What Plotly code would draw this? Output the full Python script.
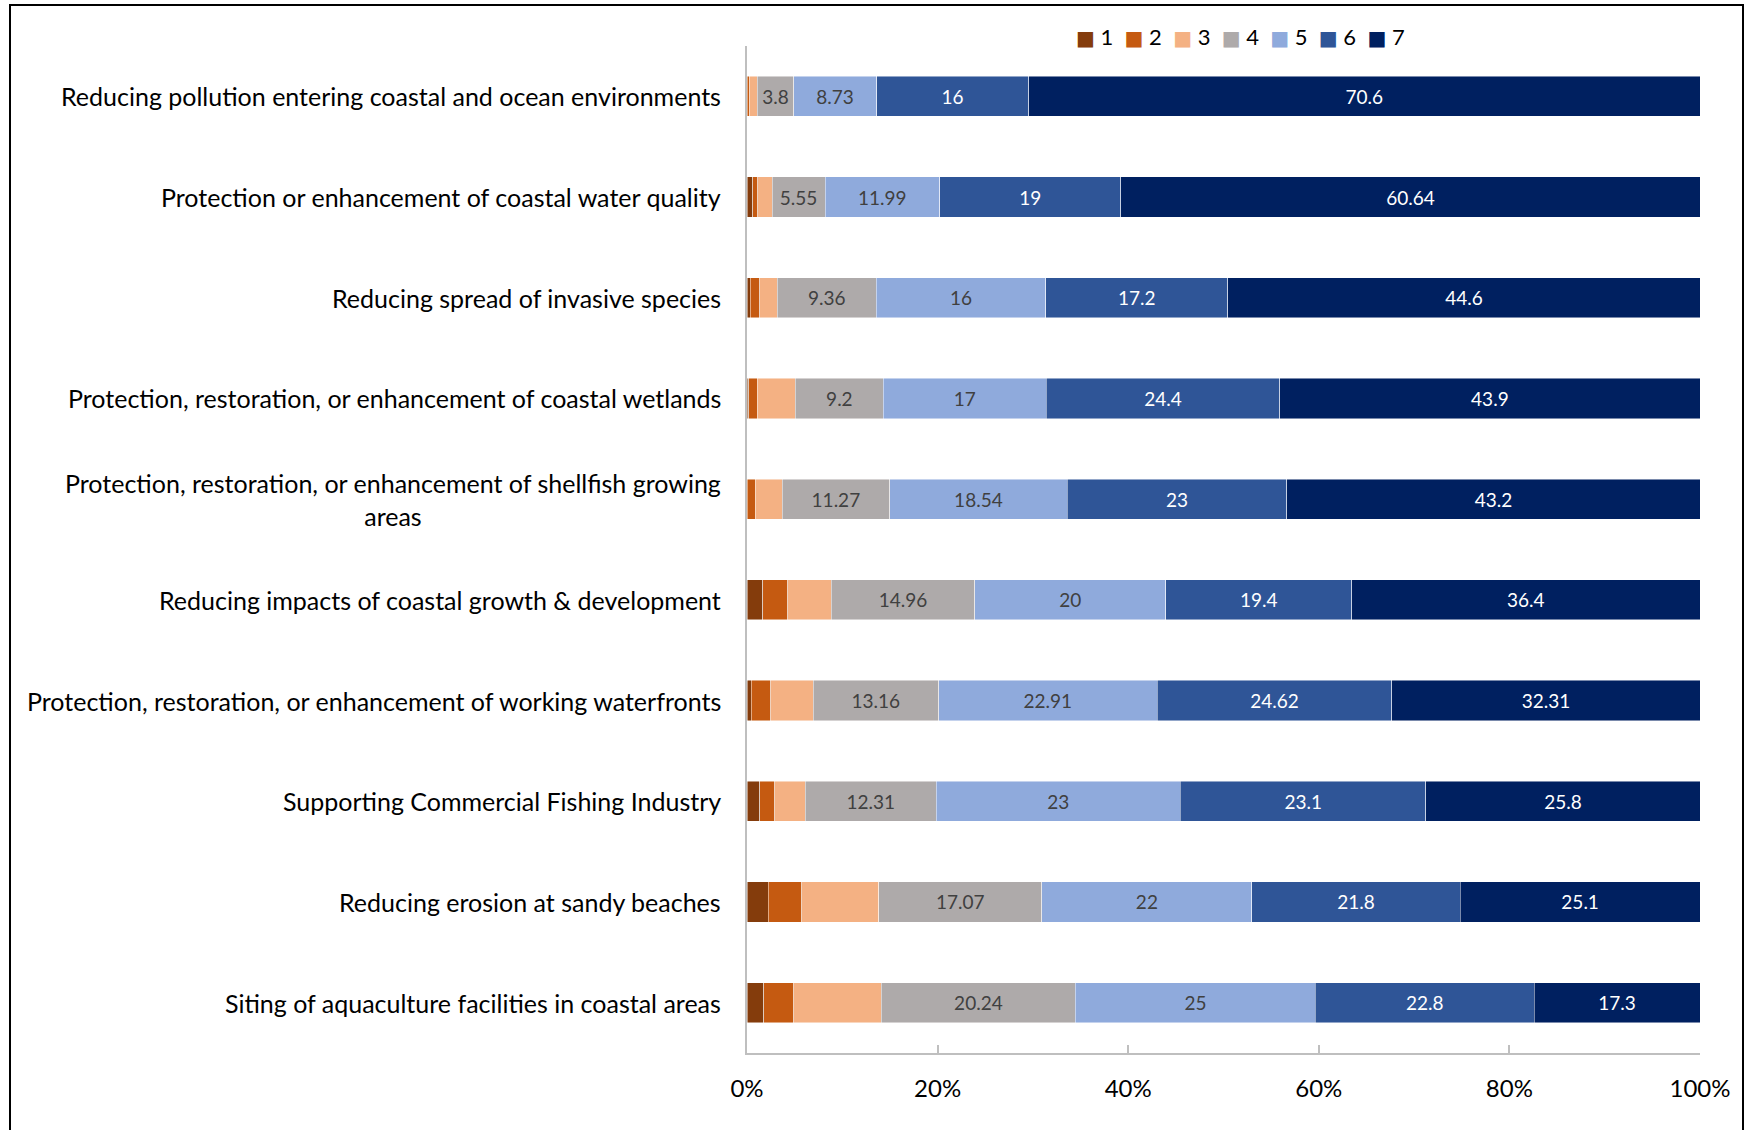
import plotly.graph_objects as go

# Survey topics (top to bottom) and responses on a 1-7 scale
categories = [
    "Reducing pollution entering coastal and ocean environments",
    "Protection or enhancement of coastal water quality",
    "Reducing spread of invasive species",
    "Protection, restoration, or enhancement of coastal wetlands",
    "Protection, restoration, or enhancement of shellfish growing<br>areas",
    "Reducing impacts of coastal growth & development",
    "Protection, restoration, or enhancement of working waterfronts",
    "Supporting Commercial Fishing Industry",
    "Reducing erosion at sandy beaches",
    "Siting of aquaculture facilities in coastal areas",
]

s1 = [0.05, 0.60, 0.32, 0.18, 0.00, 1.67, 0.42, 1.19, 2.20, 1.77]
s2 = [0.20, 0.52, 0.88, 0.90, 0.87, 2.61, 2.07, 1.41, 3.53, 3.09]
s3 = [0.84, 1.50, 1.66, 3.97, 2.79, 4.53, 4.44, 2.89, 8.06, 9.14]
s4 = [3.8, 5.55, 9.36, 9.2, 11.27, 14.96, 13.16, 12.31, 17.07, 20.24]
s5 = [8.73, 11.99, 16, 17, 18.54, 20, 22.91, 23, 22, 25]
s6 = [16, 19, 17.2, 24.4, 23, 19.4, 24.62, 23.1, 21.8, 22.8]
s7 = [70.6, 60.64, 44.6, 43.9, 43.2, 36.4, 32.31, 25.8, 25.1, 17.3]

series_names = ["1", "2", "3", "4", "5", "6", "7"]
series_values = [s1, s2, s3, s4, s5, s6, s7]
series_colors = ["#843C0C", "#C55A11", "#F4B183", "#AEAAAA", "#8FAADC", "#2F5597", "#002060"]
labelled = [False, False, False, True, True, True, True]
label_colors = [None, None, None, "#404040", "#404040", "#FFFFFF", "#FFFFFF"]

x_ticks = [0, 20, 40, 60, 80, 100]
x_tick_text = [f"{t}%" for t in x_ticks]

FONT = "Lato"

fig = go.Figure()
for name, vals, color, lab, lcol in zip(series_names, series_values, series_colors,
                                        labelled, label_colors):
    fig.add_trace(go.Bar(
        name=name,
        y=categories,
        x=vals,
        orientation="h",
        marker=dict(color=color, line=dict(color="rgba(255,255,255,0.6)", width=0.8)),
        text=[f"{v:g}" for v in vals] if lab else None,
        textposition="inside" if lab else "none",
        insidetextanchor="middle",
        textangle=0,
        textfont=dict(family=FONT, size=19, color=lcol if lcol else "#000"),
        hoverinfo="skip",
        showlegend=False,
    ))

# Category labels as annotations so wrapped lines stay centred
for cat in categories:
    fig.add_annotation(
        x=0, xref="paper", xanchor="right", xshift=-24,
        y=cat, yref="y", yanchor="middle",
        text=cat, showarrow=False, align="center",
        font=dict(family=FONT, size=25, color="#000000"),
    )

W, H = 1745, 1130
ML, MR, MT, MB = 747, 45, 46, 77
pw, ph = W - ML - MR, H - MT - MB

# Compact legend row: coloured squares followed by series names
legend_text = "&nbsp;&nbsp;".join(
    f"<span style='color:{c};font-family:DejaVu Sans;font-size:20px'>■</span>&nbsp;{n}"
    for n, c in zip(series_names, series_colors)
)
fig.add_annotation(
    x=(1240 - ML) / pw, xref="paper", xanchor="center",
    y=1 + 9 / ph, yref="paper", yanchor="middle",
    text=legend_text, showarrow=False,
    font=dict(family=FONT, size=22, color="#000000"),
)

# Outer frame
fig.add_shape(
    type="rect", xref="paper", yref="paper",
    x0=(10 - ML) / pw, x1=(1743 - ML) / pw,
    y0=-0.2, y1=1 + (MT - 5) / ph,
    line=dict(color="#000000", width=2), fillcolor="rgba(0,0,0,0)", layer="below",
)

fig.update_layout(
    width=W, height=H,
    margin=dict(l=ML, r=MR, t=MT, b=MB, pad=0),
    barmode="stack",
    barnorm="percent",
    bargap=0.6,
    plot_bgcolor="#FFFFFF",
    paper_bgcolor="#FFFFFF",
    font=dict(family=FONT, color="#000000"),
    showlegend=False,
    xaxis=dict(
        range=[0, 100], tickvals=x_ticks, ticktext=x_tick_text,
        showgrid=False, zeroline=False,
        showline=True, linecolor="#BFBFBF", linewidth=2,
        ticks="inside", ticklen=8, tickcolor="#BFBFBF", tickwidth=2,
        tickfont=dict(family=FONT, size=24, color="#000000"),
        ticklabelstandoff=13,
    ),
    yaxis=dict(
        categoryorder="array", categoryarray=categories[::-1],
        showticklabels=False, showgrid=False, zeroline=False,
        showline=True, linecolor="#BFBFBF", linewidth=2, ticks="",
    ),
)

fig.write_html("out.html")
